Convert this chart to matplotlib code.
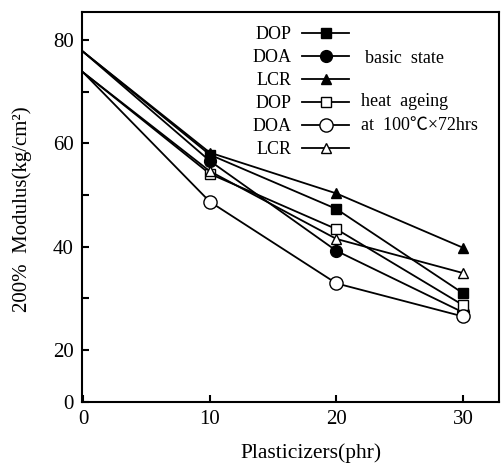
import matplotlib
matplotlib.use("Agg")
import matplotlib.pyplot as plt

plt.rcParams['font.family'] = ['Liberation Serif', 'Noto Sans CJK JP', 'DejaVu Sans']

x = [0, 10, 20, 30]
dop_basic = [77.7, 57.8, 47.3, 31.0]
doa_basic = [77.7, 56.6, 39.2, 27.3]
lcr_basic = [77.7, 58.2, 50.3, 39.8]
dop_aged = [73.7, 54.1, 43.4, 28.7]
doa_aged = [73.7, 48.7, 32.9, 26.5]
lcr_aged = [73.7, 54.6, 41.5, 34.9]
labels = ["DOP", "DOA", "LCR", "DOP", "DOA", "LCR"]
xtick_vals = [0, 10, 20, 30]
xtick_labels = ["0", "10", "20", "30"]
ytick_vals = [10, 20, 30, 40, 50, 60, 70, 80]
ytick_labels = ["0", "20", "", "40", "", "60", "", "80"]

fig = plt.figure(figsize=(5.02, 4.63), dpi=100)
ax = fig.add_axes([0.1633, 0.1324, 0.8307, 0.8416])

fs = 13
tfs = 15
lw = 1.3
series = [
    (dop_basic, 's', 'black', 7.5),
    (doa_basic, 'o', 'black', 8.5),
    (lcr_basic, '^', 'black', 7.5),
    (dop_aged, 's', 'white', 7.5),
    (doa_aged, 'o', 'white', 9.5),
    (lcr_aged, '^', 'white', 7.5),
]
handles = []
for (vals, m, fc, ms), lab in zip(series, labels):
    ax.plot(x, vals, color='black', lw=lw, marker=m, ms=ms, markevery=[1, 2, 3],
            markerfacecolor=fc, markeredgecolor='black', markeredgewidth=1.0)
    h, = ax.plot([], [], color='black', lw=lw, marker=m, ms=ms,
                 markerfacecolor=fc, markeredgecolor='black', markeredgewidth=1.0)
    handles.append(h)

ax.set_xlim(-0.1, 32.85)
ax.set_ylim(10, 85.4)
ax.set_xticks(xtick_vals)
ax.set_xticklabels(xtick_labels, fontsize=tfs)
ax.set_yticks(ytick_vals)
ax.set_yticklabels(ytick_labels, fontsize=tfs)
ax.tick_params(direction='in', length=5, width=1.5, pad=6)
for s in ax.spines.values():
    s.set_linewidth(1.5)

leg = fig.legend(handles=handles, labels=labels, loc='upper left',
                 bbox_to_anchor=(0.503, 0.943), frameon=False, markerfirst=False,
                 fontsize=fs, handlelength=2.6, handletextpad=0.6,
                 labelspacing=0.33, borderpad=0, borderaxespad=0)

fig.text(0.727, 0.873, "basic  state", fontsize=fs, ha='left', va='center')
fig.text(0.719, 0.780, "heat  ageing", fontsize=fs, ha='left', va='center')
fig.text(0.719, 0.730, "at  100℃×72hrs", fontsize=fs, ha='left', va='center')

fig.text(0.044, 0.548, "200%  Modulus(kg/cm²)", fontsize=15, rotation=90,
         ha='center', va='center')
fig.text(0.62, 0.022, "Plasticizers(phr)", fontsize=15.5, ha='center', va='center')

fig.savefig("out.png", dpi=100)
